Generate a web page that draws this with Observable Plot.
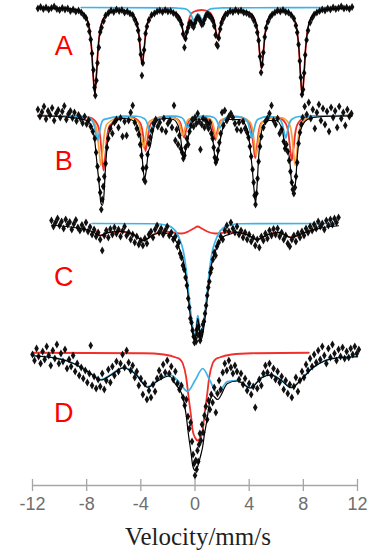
<!DOCTYPE html>
<html>
<head>
<meta charset="utf-8">
<script src="https://cdn.jsdelivr.net/npm/d3@7"></script>
<script src="https://cdn.jsdelivr.net/npm/@observablehq/plot@0.6"></script>
<style>
  html, body { margin: 0; padding: 0; background: #fff; }
  #chart { width: 371px; height: 560px; }
  g[aria-label="axis title"] text { font-family: "Liberation Serif", "Times New Roman", serif; }
</style>
</head>
<body>
<div id="chart"></div>
<script>
// Mössbauer spectra A–D: measured transmission (%) against source velocity (mm/s),
// with the total fit (black) and the fitted sub-spectra (coloured).
const panels = ["A", "B", "C", "D"];
const velocityTicks = [-12, -8, -4, 0, 4, 8, 12];
const axisTitle = "Velocity/mm/s";

// ---- Spectrum A ----
const pointsA = [[-11.6,99.8],[-11.4,100.1],[-11.2,99.7],[-11.0,100.0],[-10.8,99.6],[-10.6,99.9],[-10.4,100.2],[-10.2,99.7],[-10.0,99.5],[-9.8,99.9],[-9.6,99.6],[-9.4,99.8],[-9.2,99.3],[-9.0,99.6],[-8.8,99.2],[-8.6,99.4],[-8.4,99.0],[-8.2,98.4],[-8.05,97.9],[-7.9,96.6],[-7.8,95.2],[-7.7,93.6],[-7.6,90.8],[-7.5,87.5],[-7.42,84.0],[-7.36,82.4],[-7.28,85.4],[-7.2,88.9],[-7.1,92.0],[-7.0,95.1],[-6.9,96.0],[-6.75,97.3],[-6.6,98.4],[-6.4,98.9],[-6.2,99.4],[-6.0,99.1],[-5.8,99.6],[-5.6,99.3],[-5.4,99.5],[-5.2,99.0],[-5.0,99.2],[-4.8,98.8],[-4.6,98.5],[-4.45,97.6],[-4.3,96.7],[-4.2,95.4],[-4.1,93.6],[-4.0,90.6],[-3.92,86.4],[-3.85,88.9],[-3.76,91.5],[-3.65,94.8],[-3.55,96.2],[-3.4,97.5],[-3.2,98.5],[-3.0,98.8],[-2.8,99.2],[-2.6,99.4],[-2.4,99.1],[-2.2,99.5],[-2.0,99.2],[-1.8,99.3],[-1.6,98.9],[-1.4,98.6],[-1.25,98.0],[-1.1,97.4],[-0.98,96.6],[-0.88,94.7],[-0.78,92.0],[-0.7,93.8],[-0.6,95.1],[-0.5,96.0],[-0.4,96.9],[-0.3,97.0],[-0.2,96.4],[-0.1,96.1],[0.0,96.9],[0.1,97.6],[0.2,98.1],[0.3,97.8],[0.4,97.2],[0.5,96.6],[0.6,96.8],[0.7,97.6],[0.8,98.3],[0.9,98.7],[1.0,98.5],[1.1,98.3],[1.2,97.9],[1.32,97.3],[1.42,96.3],[1.52,94.5],[1.6,92.6],[1.68,92.3],[1.76,93.9],[1.86,95.7],[1.96,96.9],[2.1,97.8],[2.25,98.6],[2.4,98.8],[2.6,99.3],[2.8,99.1],[3.0,99.5],[3.2,99.2],[3.4,99.4],[3.6,99.0],[3.8,98.9],[4.0,98.6],[4.2,98.2],[4.35,97.4],[4.5,96.4],[4.6,95.0],[4.7,93.4],[4.8,90.2],[4.88,87.0],[4.96,88.6],[5.05,91.0],[5.15,94.1],[5.25,95.9],[5.4,97.2],[5.55,98.1],[5.7,98.6],[5.9,99.0],[6.1,99.4],[6.3,99.2],[6.5,99.5],[6.7,99.1],[6.9,99.0],[7.1,98.5],[7.3,97.8],[7.45,96.4],[7.55,95.0],[7.65,92.6],[7.74,89.3],[7.82,86.0],[7.9,82.6],[7.98,83.6],[8.06,86.9],[8.14,90.5],[8.24,93.5],[8.35,95.4],[8.5,97.0],[8.65,97.9],[8.8,98.6],[9.0,99.0],[9.2,99.3],[9.4,99.6],[9.6,99.4],[9.8,99.8],[10.0,99.6],[10.2,100.0],[10.4,99.7],[10.6,99.9],[10.8,100.2],[11.0,99.8],[11.2,100.0],[11.4,99.7],[11.6,100.1]];
const fitA = [[-11.6,99.93],[-10.0,99.85],[-9.4,99.75],[-8.9,99.6],[-8.4,99.1],[-8.05,98.1],[-7.8,95.8],[-7.65,92.2],[-7.52,86.5],[-7.4,82.7],[-7.28,86.5],[-7.15,92.1],[-7.0,95.6],[-6.75,97.8],[-6.4,98.9],[-5.9,99.35],[-5.4,99.4],[-4.9,99.1],[-4.55,98.4],[-4.3,97.0],[-4.15,94.7],[-4.02,91.0],[-3.9,88.6],[-3.78,91.0],[-3.65,94.6],[-3.5,96.9],[-3.25,98.3],[-2.9,99.0],[-2.4,99.3],[-1.75,99.15],[-1.4,98.8],[-1.15,98.2],[-1.0,97.0],[-0.87,94.8],[-0.75,93.5],[-0.63,94.6],[-0.5,96.3],[-0.35,97.3],[-0.2,96.8],[-0.1,96.5],[0.0,97.05],[0.1,97.75],[0.225,98.1],[0.35,97.9],[0.45,97.3],[0.55,96.9],[0.65,97.4],[0.75,98.1],[0.95,98.7],[1.1,98.7],[1.28,98.1],[1.43,97.0],[1.56,95.0],[1.68,93.7],[1.8,95.0],[1.93,97.1],[2.08,98.2],[2.33,98.9],[2.7,99.25],[3.3,99.35],[3.9,99.1],[4.26,98.4],[4.51,96.8],[4.66,94.4],[4.79,90.4],[4.91,87.8],[5.03,90.4],[5.16,94.4],[5.31,96.8],[5.56,98.3],[5.9,98.95],[6.4,99.3],[6.9,99.1],[7.27,98.0],[7.52,95.6],[7.67,91.9],[7.8,86.1],[7.92,82.3],[8.04,86.1],[8.17,91.9],[8.32,95.6],[8.57,97.9],[8.92,98.95],[9.4,99.45],[10.0,99.7],[11.5,99.92]];
const redA = [[-11.6,99.93],[-10.0,99.85],[-9.4,99.75],[-8.9,99.6],[-8.4,99.1],[-8.05,98.1],[-7.8,95.8],[-7.65,92.2],[-7.52,86.5],[-7.4,82.7],[-7.28,86.5],[-7.15,92.1],[-7.0,95.6],[-6.75,97.8],[-6.4,98.9],[-5.9,99.35],[-5.4,99.4],[-4.9,99.1],[-4.55,98.4],[-4.3,97.0],[-4.15,94.7],[-4.02,91.0],[-3.9,88.6],[-3.78,91.0],[-3.65,94.6],[-3.5,96.9],[-3.25,98.3],[-2.9,99.0],[-2.4,99.3],[-1.75,99.15],[-1.4,98.8],[-1.15,98.2],[-1.0,97.0],[-0.87,95.0],[-0.75,93.8],[-0.63,95.0],[-0.5,96.9],[-0.35,98.4],[-0.1,99.15],[0.47,99.5],[1.0,99.2],[1.28,98.3],[1.43,97.1],[1.56,95.0],[1.68,93.7],[1.8,95.0],[1.93,97.1],[2.08,98.2],[2.33,98.9],[2.7,99.25],[3.3,99.35],[3.9,99.1],[4.26,98.4],[4.51,96.8],[4.66,94.4],[4.79,90.4],[4.91,87.8],[5.03,90.4],[5.16,94.4],[5.31,96.8],[5.56,98.3],[5.9,98.95],[6.4,99.3],[6.9,99.1],[7.27,98.0],[7.52,95.6],[7.67,91.9],[7.8,86.1],[7.92,82.3],[8.04,86.1],[8.17,91.9],[8.32,95.6],[8.57,97.9],[8.92,98.95],[9.4,99.45],[10.0,99.7],[11.5,99.92]];
const blueA = [[-8.4,100],[-1.6,99.93],[-1.1,99.85],[-0.8,99.77],[-0.5,99.44],[-0.3,98.67],[-0.2,97.92],[-0.1,97.4],[0.0,97.8],[0.1,98.4],[0.225,98.7],[0.35,98.4],[0.45,97.8],[0.55,97.4],[0.65,97.92],[0.75,98.67],[0.95,99.44],[1.25,99.77],[1.55,99.85],[2.05,99.93],[11.3,100]];

// ---- Spectrum B ----
const pointsB = [[-11.6,101.2],[-11.45,99.8],[-11.3,100.7],[-11.15,101.8],[-11.0,99.3],[-10.85,100.9],[-10.7,100.1],[-10.55,101.5],[-10.4,99.0],[-10.25,100.4],[-10.1,101.1],[-9.95,99.6],[-9.8,100.8],[-9.65,101.9],[-9.5,99.2],[-9.35,100.3],[-9.2,100.9],[-9.05,99.5],[-8.9,100.6],[-8.75,98.9],[-8.6,100.1],[-8.45,99.4],[-8.3,98.5],[-8.15,99.8],[-8.0,98.3],[-7.85,99.1],[-7.7,97.8],[-7.55,96.8],[-7.4,95.4],[-7.3,92.6],[-7.2,89.8],[-7.1,87.2],[-7.0,84.6],[-6.92,81.2],[-6.85,83.2],[-6.78,85.8],[-6.7,87.8],[-6.6,90.4],[-6.5,93.6],[-6.4,95.4],[-6.25,97.4],[-6.1,96.4],[-5.95,98.6],[-5.8,99.2],[-5.65,97.6],[-5.5,99.5],[-5.35,95.8],[-5.2,98.8],[-5.05,96.0],[-4.9,99.0],[-4.75,100.6],[-4.6,102.0],[-4.45,98.6],[-4.3,97.4],[-4.15,96.2],[-4.05,94.2],[-3.95,92.0],[-3.85,89.4],[-3.76,87.2],[-3.68,86.8],[-3.6,89.6],[-3.5,92.2],[-3.4,94.4],[-3.3,95.6],[-3.18,97.0],[-3.05,98.4],[-2.9,99.2],[-2.75,97.8],[-2.6,98.6],[-2.45,97.2],[-2.3,99.4],[-2.15,96.8],[-2.0,98.4],[-1.85,99.0],[-1.7,97.6],[-1.55,102.0],[-1.45,95.0],[-1.35,97.2],[-1.25,94.2],[-1.15,96.0],[-1.05,93.4],[-0.95,92.6],[-0.86,91.4],[-0.78,92.0],[-0.7,93.6],[-0.6,95.4],[-0.5,94.2],[-0.4,96.8],[-0.3,98.0],[-0.2,99.2],[-0.1,97.8],[0.0,99.6],[0.1,98.4],[0.2,100.4],[0.3,98.8],[0.4,93.2],[0.5,98.2],[0.6,99.4],[0.7,97.6],[0.8,99.0],[0.9,98.2],[1.0,97.4],[1.1,98.6],[1.2,96.4],[1.3,95.4],[1.38,93.6],[1.46,91.6],[1.54,90.6],[1.62,91.2],[1.7,93.0],[1.8,94.6],[1.9,96.4],[2.0,100.6],[2.1,98.0],[2.2,101.0],[2.35,99.0],[2.5,99.8],[2.65,100.4],[2.8,99.6],[2.95,98.4],[3.1,97.2],[3.25,98.6],[3.4,97.0],[3.55,98.8],[3.7,97.4],[3.85,96.6],[3.95,95.6],[4.05,93.8],[4.15,91.8],[4.25,89.2],[4.33,86.6],[4.4,84.0],[4.47,82.2],[4.54,84.4],[4.62,87.4],[4.7,90.8],[4.8,93.8],[4.9,95.8],[5.05,97.6],[5.2,98.8],[5.35,99.4],[5.5,100.4],[5.65,102.0],[5.8,99.0],[5.95,98.2],[6.1,99.4],[6.25,96.4],[6.4,97.2],[6.55,94.8],[6.65,93.4],[6.75,94.2],[6.85,92.8],[6.95,91.0],[7.05,88.8],[7.15,86.6],[7.22,85.2],[7.3,84.4],[7.38,85.6],[7.46,87.8],[7.55,90.6],[7.65,94.4],[7.75,96.6],[7.85,98.2],[7.95,99.6],[8.1,101.8],[8.25,100.2],[8.4,102.6],[8.55,99.4],[8.7,101.2],[8.85,97.4],[9.0,100.6],[9.15,102.2],[9.3,99.0],[9.45,101.4],[9.6,98.2],[9.75,100.8],[9.9,96.8],[10.05,101.6],[10.2,99.6],[10.35,100.9],[10.5,97.6],[10.65,101.8],[10.8,99.4],[10.95,100.6],[11.1,98.0],[11.25,101.2],[11.4,99.8],[11.55,100.4]];
const fitB = [[-11.6,99.95],[-9.5,99.7],[-8.6,99.4],[-8.0,99.0],[-7.6,97.45],[-7.4,94.9],[-7.25,90.7],[-7.1,86.9],[-6.95,82.55],[-6.85,82.0],[-6.75,83.2],[-6.6,90.0],[-6.45,94.9],[-6.25,97.55],[-5.9,98.85],[-5.3,99.4],[-4.7,99.15],[-4.3,98.2],[-4.1,96.55],[-3.95,93.3],[-3.8,88.5],[-3.7,87.5],[-3.6,89.05],[-3.45,92.66],[-3.3,93.9],[-3.15,96.2],[-2.95,98.25],[-2.6,99.25],[-2.1,99.4],[-1.6,99.2],[-1.25,98.0],[-1.05,95.3],[-0.9,91.9],[-0.8,91.5],[-0.68,93.3],[-0.55,94.84],[-0.42,96.75],[-0.2,98.55],[0.2,99.3],[0.7,99.2],[1.05,98.36],[1.25,96.6],[1.4,93.3],[1.52,90.5],[1.65,91.8],[1.8,94.2],[1.95,96.3],[2.15,98.3],[2.5,99.2],[3.3,99.17],[3.75,98.0],[3.95,96.1],[4.1,92.8],[4.25,88.65],[4.38,84.6],[4.47,82.5],[4.57,85.35],[4.7,91.7],[4.85,95.8],[5.05,98.0],[5.5,99.0],[6.0,99.0],[6.45,97.05],[6.7,93.25],[6.85,93.2],[7.0,90.85],[7.15,86.36],[7.28,85.85],[7.4,86.16],[7.55,91.6],[7.7,95.6],[7.9,97.9],[8.3,99.2],[9.0,99.7],[11.6,99.95]];
const redB = [[-11.6,99.96],[-9.5,99.9],[-7.75,99.55],[-7.2,98.2],[-7.0,95.7],[-6.87,91.9],[-6.75,89.0],[-6.63,91.9],[-6.5,95.6],[-6.3,98.0],[-5.2,99.7],[-4.65,99.6],[-4.1,98.7],[-3.9,97.2],[-3.77,94.8],[-3.65,92.9],[-3.53,94.8],[-3.4,97.1],[-3.2,98.6],[-2.2,99.75],[-1.8,99.74],[-1.25,99.15],[-1.05,98.25],[-0.92,96.75],[-0.8,95.6],[-0.68,96.8],[-0.55,98.25],[-0.35,99.1],[0.35,99.74],[0.5,99.7],[1.05,99.1],[1.25,98.1],[1.38,96.45],[1.5,95.1],[1.62,96.45],[1.75,98.1],[1.95,99.1],[2.97,99.76],[3.45,99.55],[4.0,98.5],[4.2,96.6],[4.33,93.7],[4.45,91.5],[4.57,93.7],[4.7,96.6],[4.9,98.5],[5.8,99.63],[6.15,99.6],[6.7,98.4],[6.9,96.4],[7.03,93.3],[7.15,91.0],[7.27,93.3],[7.4,96.4],[7.6,98.4],[8.15,99.62],[9.5,99.9],[11.6,99.96]];
const orangeB = [[-11.6,99.96],[-9.5,99.88],[-7.95,99.6],[-7.4,98.35],[-7.2,96.1],[-7.07,92.65],[-6.95,90.0],[-6.83,92.65],[-6.7,96.1],[-6.5,98.3],[-5.4,99.7],[-4.8,99.6],[-4.25,98.85],[-4.05,97.45],[-3.92,95.2],[-3.8,93.5],[-3.68,95.2],[-3.55,97.45],[-3.35,98.85],[-2.35,99.75],[-1.9,99.75],[-1.35,99.3],[-1.15,98.4],[-1.02,97.05],[-0.9,96.0],[-0.78,97.05],[-0.65,98.4],[-0.45,99.3],[0.34,99.74],[0.58,99.75],[1.13,99.25],[1.33,98.28],[1.46,96.77],[1.58,95.6],[1.7,96.77],[1.83,98.28],[2.03,99.25],[3.05,99.76],[3.52,99.6],[4.07,98.65],[4.27,96.9],[4.4,94.1],[4.52,92.0],[4.64,94.1],[4.77,96.9],[4.97,98.65],[5.96,99.6],[6.4,99.55],[6.95,98.35],[7.15,96.1],[7.28,92.65],[7.4,90.0],[7.52,92.65],[7.65,96.1],[7.85,98.35],[8.4,99.55],[9.5,99.85],[11.6,99.96]];
const blueB = [[-11.6,99.98],[-9.5,99.9],[-8.2,99.8],[-7.65,99.17],[-7.45,98.05],[-7.32,96.3],[-7.2,95.0],[-7.08,96.3],[-6.95,98.05],[-6.75,99.17],[-5.3,99.88],[-4.3,99.85],[-3.75,99.4],[-3.55,98.6],[-3.42,97.4],[-3.3,96.5],[-3.18,97.4],[-3.05,98.6],[-2.85,99.4],[-1.9,99.88],[-1.55,99.88],[-1.0,99.6],[-0.8,99.0],[-0.67,98.16],[-0.55,97.5],[-0.43,98.16],[-0.3,99.0],[-0.1,99.6],[0.65,99.88],[0.85,99.88],[1.4,99.6],[1.6,99.0],[1.73,98.16],[1.85,97.5],[1.97,98.16],[2.1,99.0],[2.3,99.6],[3.2,99.8],[3.75,99.26],[3.95,98.25],[4.08,96.7],[4.2,95.5],[4.32,96.7],[4.45,98.25],[4.65,99.26],[5.45,99.82],[6.25,99.26],[6.45,98.25],[6.58,96.7],[6.7,95.5],[6.82,96.7],[6.95,98.25],[7.15,99.26],[7.7,99.8],[9.5,99.93],[11.6,99.98]];

// ---- Spectrum C ----
const pointsC = [[-10.6,100.6],[-10.45,99.4],[-10.3,100.2],[-10.15,101.0],[-10.0,99.6],[-9.85,100.4],[-9.7,99.0],[-9.55,100.8],[-9.4,99.8],[-9.25,100.3],[-9.1,98.8],[-8.95,99.9],[-8.8,100.7],[-8.65,99.2],[-8.5,98.6],[-8.35,99.7],[-8.2,98.9],[-8.05,100.2],[-7.9,98.4],[-7.75,99.3],[-7.6,97.8],[-7.45,98.8],[-7.3,97.4],[-7.15,98.2],[-7.0,96.8],[-6.85,94.6],[-6.7,97.6],[-6.55,98.6],[-6.4,97.2],[-6.25,98.9],[-6.1,97.8],[-5.95,99.2],[-5.8,98.0],[-5.65,98.8],[-5.5,97.4],[-5.35,98.5],[-5.2,99.4],[-5.05,97.6],[-4.9,98.2],[-4.75,96.8],[-4.6,97.8],[-4.45,96.2],[-4.3,97.4],[-4.15,95.8],[-4.0,96.6],[-3.85,95.6],[-3.7,97.0],[-3.55,96.0],[-3.4,97.8],[-3.25,98.4],[-3.1,97.2],[-2.95,98.8],[-2.8,99.6],[-2.65,98.2],[-2.5,99.0],[-2.35,97.8],[-2.2,98.6],[-2.05,99.4],[-1.9,97.6],[-1.75,98.2],[-1.6,96.8],[-1.45,97.4],[-1.3,95.4],[-1.2,96.2],[-1.1,94.0],[-1.0,93.2],[-0.9,91.6],[-0.8,90.8],[-0.7,89.2],[-0.6,87.6],[-0.5,85.0],[-0.42,83.2],[-0.34,81.0],[-0.26,80.2],[-0.18,78.6],[-0.1,77.4],[-0.04,76.2],[0.02,77.0],[0.08,76.4],[0.14,78.8],[0.2,77.8],[0.26,79.4],[0.32,77.6],[0.38,76.6],[0.44,77.8],[0.5,78.4],[0.58,79.8],[0.66,80.4],[0.74,82.0],[0.82,83.6],[0.9,85.6],[0.98,87.2],[1.06,88.4],[1.14,90.2],[1.22,91.0],[1.32,92.8],[1.42,94.2],[1.52,93.6],[1.62,95.4],[1.75,96.2],[1.9,97.4],[2.05,96.8],[2.2,98.6],[2.35,99.6],[2.5,98.4],[2.65,100.2],[2.8,99.0],[2.95,98.2],[3.1,99.4],[3.25,97.8],[3.4,98.6],[3.55,97.2],[3.7,98.2],[3.85,96.8],[4.0,97.8],[4.15,96.4],[4.3,97.2],[4.45,95.6],[4.6,96.8],[4.75,95.2],[4.9,97.4],[5.05,96.6],[5.2,98.0],[5.35,97.0],[5.5,98.6],[5.65,97.6],[5.8,98.9],[5.95,97.8],[6.1,99.0],[6.25,97.4],[6.4,98.2],[6.55,96.8],[6.7,97.6],[6.85,96.0],[7.0,95.4],[7.15,96.8],[7.3,97.6],[7.45,96.4],[7.6,98.0],[7.75,97.2],[7.9,98.4],[8.05,97.6],[8.2,99.0],[8.35,98.2],[8.5,99.4],[8.65,98.6],[8.8,99.8],[8.95,99.0],[9.1,100.4],[9.25,99.4],[9.4,100.0],[9.55,98.8],[9.7,100.6],[9.85,99.6],[10.0,100.8],[10.15,99.8],[10.3,101.0],[10.45,100.2],[10.6,101.2]];
const fitC = [[-10.6,99.65],[-9.5,99.4],[-8.5,99.0],[-7.6,98.4],[-7.0,97.6],[-6.4,98.2],[-5.5,98.4],[-4.6,97.9],[-3.8,96.6],[-3.0,97.85],[-2.3,98.1],[-1.7,97.4],[-1.3,96.0],[-1.1,94.6],[-0.89,92.85],[-0.72,90.4],[-0.57,87.1],[-0.45,84.0],[-0.34,81.35],[-0.22,79.0],[-0.11,77.25],[-0.015,76.7],[0.07,77.8],[0.14,79.9],[0.21,81.0],[0.28,79.95],[0.35,77.85],[0.43,76.75],[0.53,77.3],[0.64,79.0],[0.76,81.4],[0.87,84.0],[0.99,87.15],[1.14,90.45],[1.31,92.95],[1.52,94.6],[1.72,96.0],[2.12,97.4],[2.62,97.9],[3.0,98.25],[3.8,97.8],[4.6,96.8],[5.4,97.8],[6.2,98.2],[7.1,97.2],[7.9,98.0],[8.6,98.6],[9.5,99.2],[10.6,99.55]];
const redC = [[-7.4,98.8],[-7.0,97.6],[-6.4,98.2],[-5.5,98.4],[-4.6,97.9],[-3.8,96.6],[-3.0,97.9],[-2.3,98.4],[-1.6,98.2],[-1.0,98.0],[-0.5,98.4],[-0.1,99.0],[0.2,99.4],[0.5,99.0],[0.9,98.4],[1.5,98.0],[2.3,98.2],[3.0,98.3],[3.8,97.8],[4.6,96.8],[5.4,97.8],[6.2,98.2],[7.1,97.2],[7.9,98.0],[8.8,98.8]];
const blueC = [[-7.6,100],[-3,99.95],[-2.2,99.7],[-1.7,99.2],[-1.3,97.9],[-1.1,96.6],[-0.89,94.8],[-0.72,92.2],[-0.57,88.8],[-0.45,85.6],[-0.34,82.8],[-0.22,80.2],[-0.11,78.3],[-0.015,77.6],[0.07,78.6],[0.14,80.6],[0.21,81.6],[0.28,80.6],[0.35,78.6],[0.43,77.6],[0.53,78.3],[0.64,80.2],[0.76,82.8],[0.87,85.6],[0.99,88.8],[1.14,92.2],[1.31,94.8],[1.52,96.6],[1.72,97.9],[2.12,99.2],[2.62,99.7],[3.4,99.95],[10.5,100]];

// ---- Spectrum D ----
const pointsD = [[-12.0,99.6],[-11.85,98.4],[-11.7,100.8],[-11.55,99.2],[-11.4,97.8],[-11.25,100.2],[-11.1,98.6],[-10.95,101.2],[-10.8,99.4],[-10.65,97.4],[-10.5,100.4],[-10.35,98.8],[-10.2,101.6],[-10.05,97.8],[-9.9,99.8],[-9.75,98.2],[-9.6,100.6],[-9.45,96.8],[-9.3,98.6],[-9.15,97.2],[-9.0,99.4],[-8.85,96.2],[-8.7,97.8],[-8.55,95.4],[-8.4,97.0],[-8.25,94.8],[-8.1,96.4],[-7.95,94.0],[-7.8,95.8],[-7.7,101.4],[-7.6,93.4],[-7.45,95.2],[-7.3,92.8],[-7.15,94.6],[-7.0,93.2],[-6.85,95.8],[-6.7,92.6],[-6.55,94.4],[-6.4,96.6],[-6.25,94.0],[-6.1,97.2],[-5.95,95.4],[-5.8,98.2],[-5.65,96.2],[-5.5,97.8],[-5.35,99.6],[-5.2,97.0],[-5.05,100.4],[-4.9,98.0],[-4.75,96.4],[-4.6,97.4],[-4.45,95.0],[-4.3,96.2],[-4.15,93.4],[-4.0,94.8],[-3.85,91.6],[-3.7,93.8],[-3.55,90.6],[-3.4,92.4],[-3.25,91.0],[-3.1,93.6],[-2.95,92.2],[-2.8,94.8],[-2.65,96.4],[-2.5,95.2],[-2.35,97.6],[-2.2,96.0],[-2.05,98.4],[-1.9,95.8],[-1.75,97.2],[-1.6,94.6],[-1.45,96.2],[-1.3,93.8],[-1.15,92.6],[-1.0,93.4],[-0.88,91.0],[-0.76,89.4],[-0.64,90.6],[-0.52,87.2],[-0.42,84.8],[-0.32,86.0],[-0.22,82.2],[-0.14,79.6],[-0.06,77.8],[0.0,75.4],[0.06,78.4],[0.12,76.6],[0.18,80.4],[0.24,78.2],[0.3,81.6],[0.36,83.8],[0.44,82.4],[0.52,85.6],[0.6,84.0],[0.7,87.4],[0.8,89.2],[0.9,86.6],[1.0,90.4],[1.1,88.6],[1.2,91.6],[1.3,90.0],[1.42,93.0],[1.54,88.0],[1.66,91.8],[1.78,94.4],[1.9,92.6],[2.05,96.0],[2.2,97.8],[2.35,96.4],[2.5,98.4],[2.65,97.0],[2.8,95.8],[2.95,97.4],[3.1,96.2],[3.25,94.6],[3.4,95.8],[3.55,93.6],[3.7,94.8],[3.85,92.4],[4.0,93.8],[4.15,91.6],[4.3,93.2],[4.45,89.0],[4.6,92.8],[4.75,94.6],[4.9,93.4],[5.05,95.8],[5.2,97.4],[5.35,96.0],[5.5,97.8],[5.65,95.4],[5.8,96.8],[5.95,94.6],[6.1,96.2],[6.25,94.0],[6.4,95.2],[6.55,92.6],[6.7,94.4],[6.85,91.8],[7.0,93.6],[7.15,91.0],[7.3,93.2],[7.45,95.0],[7.6,92.2],[7.75,94.4],[7.9,96.2],[8.05,95.0],[8.2,97.6],[8.35,96.4],[8.5,98.8],[8.65,97.2],[8.8,99.6],[8.95,98.0],[9.1,100.4],[9.25,98.6],[9.4,101.2],[9.55,99.4],[9.7,97.8],[9.85,100.8],[10.0,99.0],[10.15,101.6],[10.3,99.8],[10.45,98.4],[10.6,100.6],[10.75,99.2],[10.9,101.0],[11.05,98.8],[11.2,100.2],[11.35,99.0],[11.5,100.8],[11.65,99.6],[11.8,101.2],[11.95,99.8],[12.1,100.6]];
const fitD = [[-12,99.35],[-10.5,98.95],[-9.5,98.35],[-8.5,97.15],[-7.7,95.75],[-6.95,94.5],[-6.2,95.5],[-5.3,96.9],[-4.4,95.7],[-3.5,93.05],[-2.7,94.4],[-1.9,95.3],[-1.4,93.5],[-1.2,92.8],[-0.9,91.1],[-0.65,87.4],[-0.47,83.3],[-0.3,80.1],[-0.17,77.4],[0.0,76.4],[0.2,77.2],[0.4,79.2],[0.57,81.2],[0.7,83.7],[0.87,86.3],[1.05,89.6],[1.3,91.4],[1.66,90.6],[2.4,93.8],[3.1,94.3],[4.1,92.9],[4.9,94.9],[5.6,95.5],[6.4,94.35],[7.1,92.95],[7.9,94.75],[8.7,96.95],[9.6,98.35],[10.6,98.95],[12,99.15]];
const redD = [[-12,99.95],[-3.8,99.85],[-2.3,99.6],[-1.4,99.0],[-1.1,98.6],[-0.9,97.8],[-0.65,95.0],[-0.47,91.0],[-0.3,87.5],[-0.17,84.4],[0.0,83.0],[0.2,82.4],[0.4,83.0],[0.57,84.4],[0.7,87.5],[0.87,91.0],[1.05,95.0],[1.3,97.8],[1.5,98.6],[1.8,99.0],[2.7,99.6],[4.2,99.85],[8.4,99.95]];
const blueD = [[-12,99.4],[-10.5,99.0],[-9.5,98.4],[-8.5,97.2],[-7.7,95.8],[-6.95,94.6],[-6.2,95.6],[-5.3,97.0],[-4.4,95.8],[-3.5,93.2],[-2.7,94.6],[-1.9,95.6],[-1.2,94.2],[-0.55,92.2],[0.0,94.4],[0.57,96.8],[1.1,94.4],[1.66,91.8],[2.4,94.2],[3.1,94.4],[4.1,93.0],[4.9,95.0],[5.6,95.6],[6.4,94.4],[7.1,93.0],[7.9,94.8],[8.7,97.0],[9.6,98.4],[10.6,99.0],[12,99.2]];

// Spectra grouped by panel
const spectra = {
  A: {points: pointsA, fit: fitA, red: redA, blue: blueA},
  B: {points: pointsB, fit: fitB, red: redB, orange: orangeB, blue: blueB},
  C: {points: pointsC, fit: fitC, red: redC, blue: blueC},
  D: {points: pointsD, fit: fitD, red: redD, blue: blueD}
};

// Layout: vertical stacking of the spectra and where each panel letter sits
const layout = {
  A: {offset: -4.4, labelT: 92.2},
  B: {offset: -26.0, labelT: 90.8},
  C: {offset: -47.6, labelT: 89.2},
  D: {offset: -73.4, labelT: 87.8}
};
const labelVelocity = -9.7;
const colors = {fit: "#000000", red: "#f2302b", orange: "#f5a03a", blue: "#3db3e8", label: "#ff0000", axis: "#a6a6a6", tick: "#6e6e6e", title: "#1f1f1f"};

const toRows = (panel, pairs, series) =>
  pairs.map(([v, t]) => ({panel, series, v, level: t + layout[panel].offset}));
const collect = key => panels.flatMap(p => spectra[p][key] ? toRows(p, spectra[p][key], key) : []);

const lineOpts = (stroke, width) => ({x: "v", y: "level", z: "panel", stroke, strokeWidth: width, curve: "monotone-x"});

const chart = Plot.plot({
  width: 371,
  height: 560,
  marginTop: 0,
  marginBottom: 75,
  marginLeft: 32,
  marginRight: 14,
  style: {fontFamily: "Liberation Sans, Arial, sans-serif", background: "#fff"},
  x: {domain: [-12, 12], axis: null},
  y: {domain: [0, 97], axis: null},
  marks: [
    // velocity axis with ticks crossing the line
    Plot.ruleY([0], {stroke: colors.axis, strokeWidth: 1.3}),
    Plot.ruleX(velocityTicks, {x: d => d, y1: -1.2, y2: 1.2, stroke: colors.axis, strokeWidth: 1.3}),
    Plot.text(velocityTicks, {x: d => d, frameAnchor: "bottom", dy: 24, text: d => String(d), fontSize: 18, fill: colors.tick}),
    Plot.text([axisTitle], {ariaLabel: "axis title", frameAnchor: "bottom", dx: 3, dy: 59, text: d => d, fontSize: 25, fontFamily: "Liberation Serif", fill: colors.title}),
    // fitted sub-spectra
    Plot.line(collect("red"), lineOpts(colors.red, 1.8)),
    Plot.line(collect("orange"), lineOpts(colors.orange, 1.7)),
    Plot.line(collect("blue"), lineOpts(colors.blue, 1.7)),
    // measured points
    Plot.dot(collect("points"), {x: "v", y: "level", symbol: "diamond", r: 2.4, fill: "#111", stroke: "none"}),
    // total fit
    Plot.line(collect("fit"), lineOpts(colors.fit, 1.2)),
    // panel letters
    Plot.text(panels, {x: () => labelVelocity, y: p => layout[p].labelT + layout[p].offset, text: p => p, fontSize: 27, fill: colors.label})
  ]
});
document.getElementById("chart").append(chart);
</script>
</body>
</html>
